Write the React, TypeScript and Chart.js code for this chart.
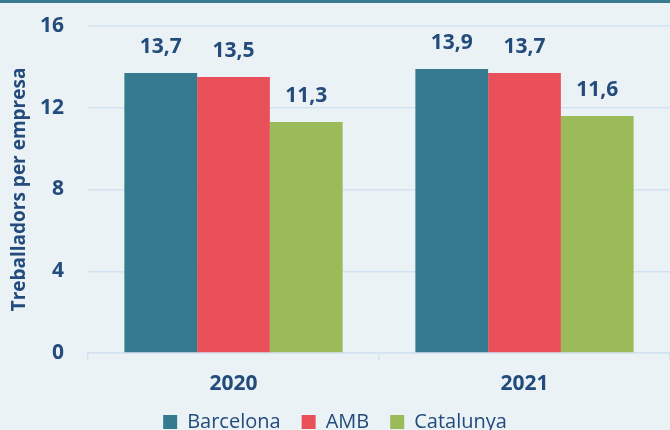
import React, { useEffect, useRef } from "react";
import { Chart, registerables } from "chart.js";

Chart.register(...registerables);

const categories = ["2020", "2021"];
const seriesNames = ["Barcelona", "AMB", "Catalunya"];
const barcelona = [13.7, 13.9];
const amb = [13.5, 13.7];
const catalunya = [11.3, 11.6];
const yTicks = [0, 4, 8, 12, 16];
const yTitle = "Treballadors per empresa";

const colors = ["#367A8F", "#E9505A", "#9BBB59"];
const textColor = "#234B7C";
const bgColor = "#EAF2F5";
const gridColor = "#D3E2F0";
const FONT = "'Open Sans', 'DejaVu Sans', sans-serif";

const bgPlugin = {
  id: "bgPlugin",
  beforeDraw(chart: any) {
    const { ctx, width, height } = chart;
    ctx.save();
    ctx.fillStyle = bgColor;
    ctx.fillRect(0, 0, width, height);
    ctx.fillStyle = "#3A7A8E";
    ctx.fillRect(0, 0, width, 3);
    ctx.restore();
  },
};

const labelPlugin = {
  id: "labelPlugin",
  afterDatasetsDraw(chart: any) {
    const { ctx } = chart;
    ctx.save();
    ctx.fillStyle = textColor;
    ctx.font = `bold 21px ${FONT}`;
    ctx.textAlign = "center";
    ctx.textBaseline = "middle";
    chart.data.datasets.forEach((ds: any, i: number) => {
      const meta = chart.getDatasetMeta(i);
      meta.data.forEach((bar: any, j: number) => {
        const v = ds.data[j] as number;
        ctx.fillText(v.toFixed(1).replace(".", ","), bar.x, bar.y - 26);
      });
    });
    ctx.restore();
  },
};

export default function App() {
  const ref = useRef<HTMLCanvasElement | null>(null);
  useEffect(() => {
    document.body.style.margin = "0";
    const chart = new Chart(ref.current as HTMLCanvasElement, {
      type: "bar",
      data: {
        labels: categories,
        datasets: [barcelona, amb, catalunya].map((d, i) => ({
          label: seriesNames[i],
          data: d,
          backgroundColor: colors[i],
          borderWidth: 0,
          categoryPercentage: 0.75,
          barPercentage: 1,
        })),
      },
      options: {
        animation: false,
        responsive: false,
        maintainAspectRatio: false,
        layout: { padding: { top: 26, left: 0, right: 0, bottom: -12 } },
        plugins: {
          tooltip: { enabled: false },
          legend: {
            position: "bottom",
            labels: {
              color: textColor,
              font: { family: FONT, size: 20 },
              boxWidth: 14,
              boxHeight: 14,
              padding: 21,
            },
          },
        },
        scales: {
          x: {
            grid: {
              drawOnChartArea: false,
              drawTicks: true,
              tickLength: 7,
              color: gridColor,
              lineWidth: 1.5,
            },
            border: { display: true, color: gridColor, width: 1.5 },
            ticks: {
              color: textColor,
              font: { family: FONT, size: 21, weight: "bold" },
              padding: 11,
            },
            afterFit(scale: any) {
              scale.height = 38;
              scale.paddingLeft = 0;
              scale.paddingRight = 0;
            },
          },
          y: {
            min: 0,
            max: 16,
            afterBuildTicks(scale: any) {
              scale.ticks = yTicks.map((v) => ({ value: v }));
            },
            grid: {
              drawTicks: false,
              color: gridColor,
              lineWidth: 1.5,
            },
            border: { display: false },
            ticks: {
              color: textColor,
              font: { family: FONT, size: 21, weight: "bold" },
              padding: 24,
            },
            title: {
              display: true,
              text: yTitle,
              color: textColor,
              font: { family: FONT, size: 19, weight: "bold" },
              padding: { top: 8, bottom: 0 },
            },
            afterFit(scale: any) {
              scale.width = 88;
              scale.paddingTop = 0;
              scale.paddingBottom = 0;
            },
          },
        },
      },
      plugins: [bgPlugin, labelPlugin],
    } as any);
    return () => chart.destroy();
  }, []);
  return (
    <div style={{ width: 670, height: 430, background: bgColor }}>
      <canvas ref={ref} width={670} height={430} style={{ display: "block" }} />
    </div>
  );
}
